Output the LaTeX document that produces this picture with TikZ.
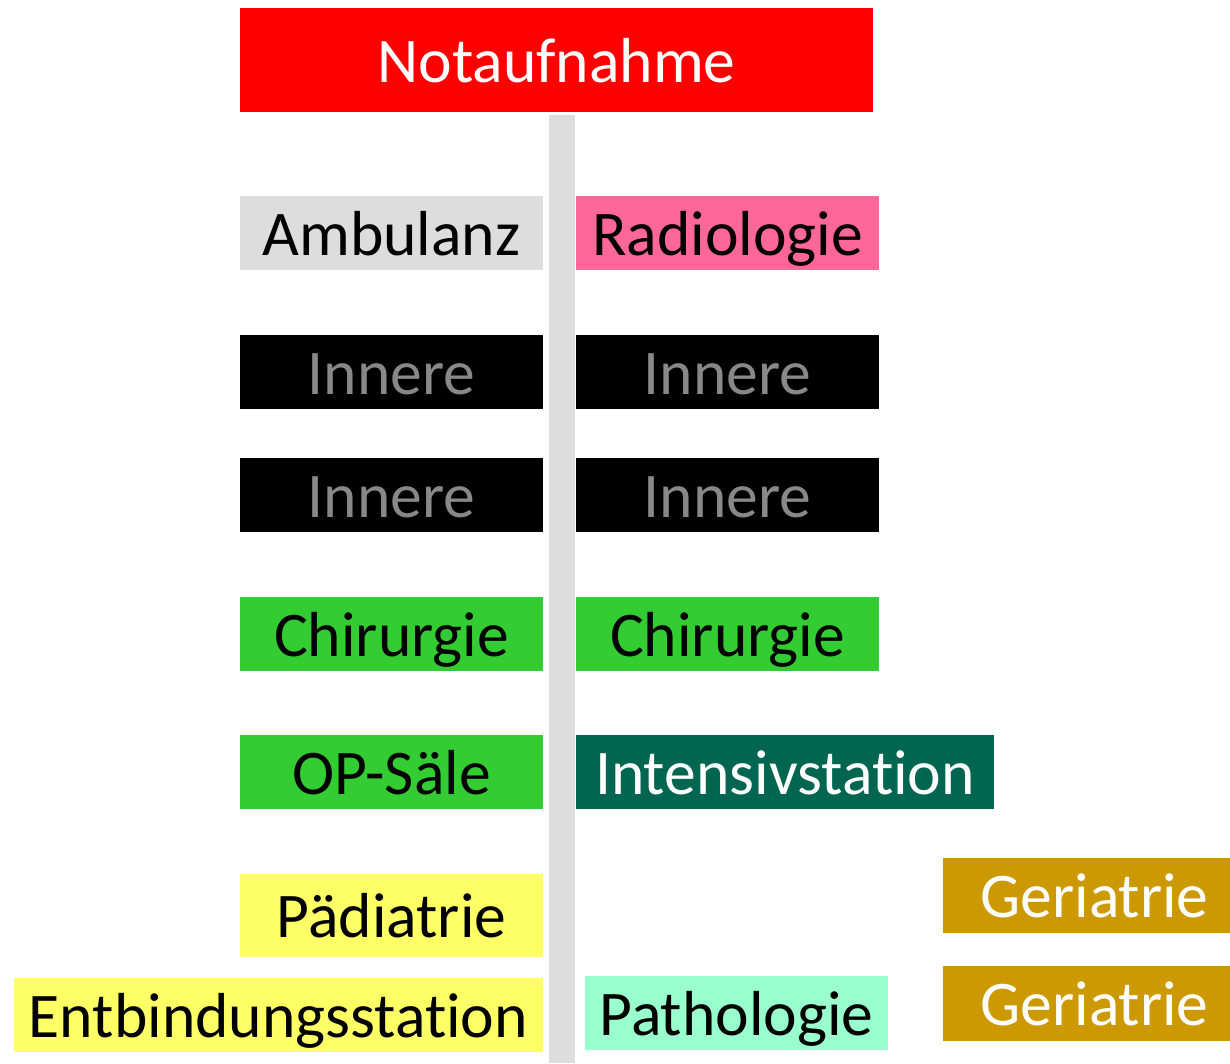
\documentclass[tikz,border=0pt]{standalone}
\usepackage{fontspec}
\setmainfont[Ligatures=NoCommon]{Carlito}
\definecolor{cRed}{HTML}{FF0000}
\definecolor{cGray}{HTML}{DDDDDD}
\definecolor{cPink}{HTML}{FF6699}
\definecolor{cInText}{HTML}{888888}
\definecolor{cGreen}{HTML}{33CC33}
\definecolor{cDark}{HTML}{006650}
\definecolor{cYellow}{HTML}{FFFF66}
\definecolor{cMint}{HTML}{99FFCC}
\definecolor{cGold}{HTML}{CC9900}
\tikzset{
  box/.style={rectangle, inner sep=0pt, minimum height=74pt, minimum width=303pt,
    text height=44pt, text depth=0pt, font=\fontsize{63.6}{70}\selectfont},
}
\begin{document}
\begin{tikzpicture}[x=1pt,y=-1pt]
\useasboundingbox (0,0) rectangle (1230,1063);
\node[rectangle, fill=cGray, inner sep=0pt, minimum width=26pt, minimum height=948pt] (bar) at (562,589) {};
\node[box, fill=cRed, text=white, minimum width=633pt, minimum height=104pt] (nota) at (556.5,60) {Notaufnahme};
\node[box, fill=cGray] (amb) at (391.5,233) {Ambulanz};
\node[box, fill=cPink] (rad) at (727.5,233) {Radiologie};
\node[box, fill=black, text=cInText] (inL1) at (391.5,372) {Innere};
\node[box, fill=black, text=cInText] (inR1) at (727.5,372) {Innere};
\node[box, fill=black, text=cInText] (inL2) at (391.5,495) {Innere};
\node[box, fill=black, text=cInText] (inR2) at (727.5,495) {Innere};
\node[box, fill=cGreen] (chL) at (391.5,634) {Chirurgie};
\node[box, fill=cGreen] (chR) at (727.5,634) {Chirurgie};
\node[box, fill=cGreen] (op) at (391.5,772) {OP-Säle};
\node[box, fill=cDark, text=white, minimum width=418pt] (int) at (785,772) {Intensivstation};
\node[box, fill=cYellow, minimum height=83pt] (pad) at (391.5,915.5) {Pädiatrie};
\node[box, fill=cYellow, minimum width=529pt] (ent) at (278.5,1015) {Entbindungsstation};
\node[box, fill=cMint] (path) at (736.5,1013) {Pathologie};
\node[box, fill=cGold, text=white, minimum height=75pt] (ger1) at (1094.5,895.5) {Geriatrie};
\node[box, fill=cGold, text=white, minimum height=75pt] (ger2) at (1094.5,1003.5) {Geriatrie};
\end{tikzpicture}
\end{document}
